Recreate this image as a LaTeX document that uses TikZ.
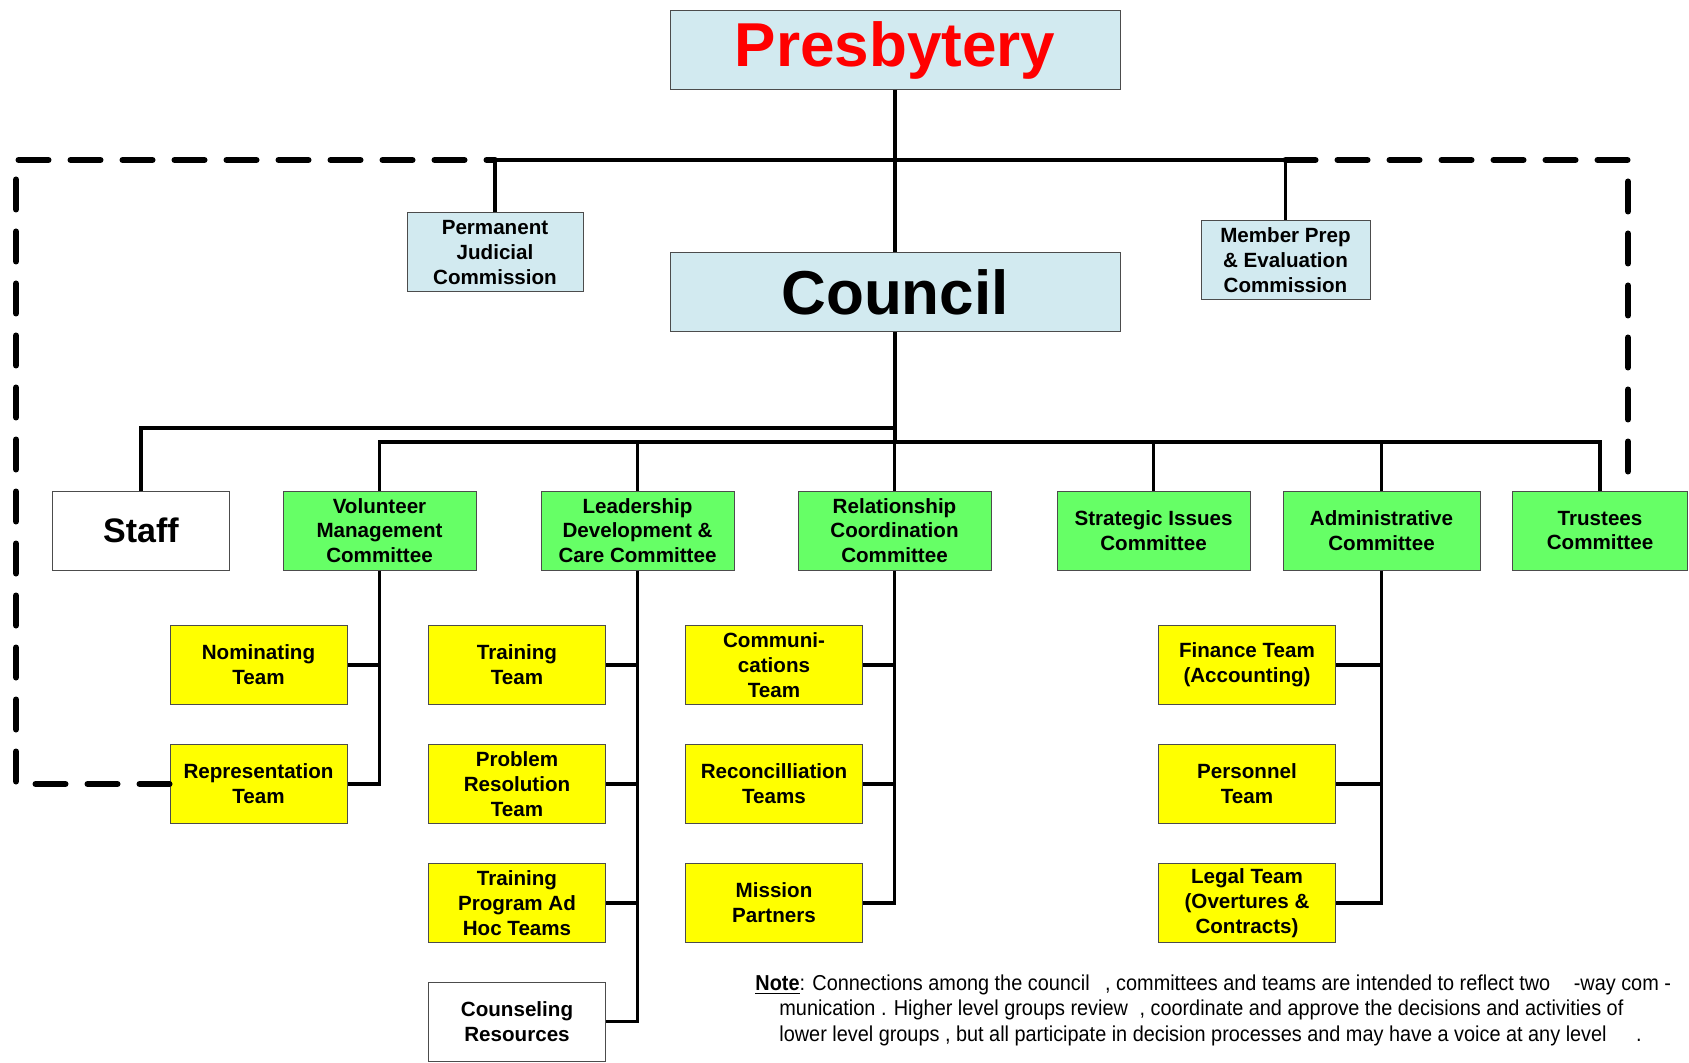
\documentclass[tikz,border=0pt]{standalone}
\usepackage{fontspec}
\setmainfont{Liberation Sans}
\newfontfamily\narrowfont[FakeStretch=0.92]{Liberation Sans}
\definecolor{boxblue}{RGB}{210,234,240}
\definecolor{boxgreen}{RGB}{102,255,102}
\definecolor{boxyellow}{RGB}{255,255,0}
\definecolor{titlered}{RGB}{255,0,0}

\begin{document}
\begin{tikzpicture}
  [
    x=0.5pt, y=-0.5pt,
    box/.style      = {draw=black!70, line width=0.5pt, align=center, inner sep=1pt,
                       minimum height=39.5pt, font=\bfseries\fontsize{10.3}{12.4}\selectfont},
    bluebox/.style  = {box, fill=boxblue},
    greenbox/.style = {box, fill=boxgreen, minimum width=96.5pt},
    teambox/.style  = {box, fill=boxyellow, minimum width=88.5pt},
    whitebox/.style = {box, fill=white, minimum width=88.5pt},
    link/.style     = {draw, line width=1.6pt},
    dashlink/.style = {draw, line width=3pt, line cap=round, dash pattern=on 15pt off 11pt},
    notetext/.style = {anchor=base west, inner sep=0pt, font=\narrowfont\fontsize{10.8}{13}\selectfont}
  ]
 \useasboundingbox (0,0) rectangle (1689,1063);
 \node [bluebox, minimum width=225pt, text=titlered, font=\bfseries\fontsize{31}{31}\selectfont] (presbytery) at (895,50) {Presbytery};
 \node [bluebox, minimum width=225pt, font=\bfseries\fontsize{31}{31}\selectfont] (council) at (895,292.5) {Council};
 \node [bluebox, minimum width=88pt] (pj) at (495,252.5) {Permanent\\Judicial\\Commission};
 \node [bluebox, minimum width=84.5pt] (mp) at (1285.5,260) {Member Prep\\\& Evaluation\\Commission};

 \node [whitebox, font=\bfseries\fontsize{17}{17}\selectfont] (staff) at (141,530.5) {Staff};
 \node [greenbox] (vmc) at (379.5,530.5) {Volunteer\\Management\\Committee};
 \node [greenbox] (ldc) at (637.5,530.5) {Leadership\\Development \&\\Care Committee};
 \node [greenbox] (rcc) at (894.5,530.5) {Relationship\\Coordination\\Committee};
 \node [greenbox] (sic) at (1153.5,530.5) {Strategic Issues\\Committee};
 \node [greenbox, minimum width=98.5pt] (adm) at (1381.5,530.5) {Administrative\\Committee};
 \node [greenbox, minimum width=87.5pt] (trustees) at (1600,530.5) {Trustees\\Committee};

 \node [teambox] (nom) at (258.5,665) {Nominating\\Team};
 \node [teambox] (rep) at (258.5,784) {Representation\\Team};
 \node [teambox] (training) at (517,665) {Training\\Team};
 \node [teambox] (problem) at (517,784) {Problem\\Resolution\\Team};
 \node [teambox] (adhoc) at (517,903) {Training\\Program Ad\\Hoc Teams};
 \node [whitebox] (counsel) at (517,1021.5) {Counseling\\Resources};
 \node [teambox] (comm) at (774,665) {Communi-\\cations\\Team};
 \node [teambox] (recon) at (774,784) {Reconcilliation\\Teams};
 \node [teambox] (mission) at (774,903) {Mission\\Partners};
 \node [teambox] (finance) at (1247,665) {Finance Team\\(Accounting)};
 \node [teambox] (personnel) at (1247,784) {Personnel\\Team};
 \node [teambox] (legal) at (1247,903) {Legal Team\\(Overtures \&\\Contracts)};

 \coordinate (bar) at (0,160);
 \coordinate (staffbar) at (0,428);
 \coordinate (combar) at (0,442);
 \coordinate (dashtl) at (16,160);
 \coordinate (dashtr) at (1628,160);

 \draw [link] (presbytery.south) -- (council.north);
 \draw [link] (pj.north) -- (pj.north |- bar) -- (mp.north |- bar) -- (mp.north);
 \draw [dashlink] (rep.west) -- (rep.west -| dashtl) -- (dashtl) -- (pj.north |- bar);
 \draw [dashlink] (mp.north |- bar) -- (dashtr) -- (dashtr |- trustees.north);

 \draw [link] (council.south) -- (council.south |- combar);
 \draw [link] (council.south |- staffbar) -- (staff.north |- staffbar) -- (staff.north);
 \draw [link] (vmc.north) -- (vmc.north |- combar) -- (trustees.north |- combar) -- (trustees.north);
 \foreach \c in {ldc, rcc, sic, adm}
  \draw [link] (\c.north) -- (\c.north |- combar);

 \draw [link] (vmc.south) -- (vmc.south |- rep.east) -- (rep.east);
 \draw [link] (ldc.south) -- (ldc.south |- counsel.east) -- (counsel.east);
 \draw [link] (rcc.south) -- (rcc.south |- mission.east) -- (mission.east);
 \draw [link] (adm.south) -- (adm.south |- legal.east) -- (legal.east);
 \foreach \t/\p in {nom/vmc, training/ldc, problem/ldc, adhoc/ldc, comm/rcc, recon/rcc, finance/adm, personnel/adm}
  \draw [link] (\t.east) -- (\p.south |- \t.east);

 \node [notetext] (note1) at (755,990) {\underline{\textbf{Note}}: Connections among the council\hspace{5pt} , committees and teams are intended to reflect two\hspace{9pt} -way com -};
 \node [notetext] (note2) at (779,1015) {munication . Higher level groups review\hspace{3pt} , coordinate and approve the decisions and activities of};
 \node [notetext] (note3) at (779,1041) {lower level groups , but all participate in decision processes and may have a voice at any level\hspace{12pt} .};
\end{tikzpicture}
\end{document}
